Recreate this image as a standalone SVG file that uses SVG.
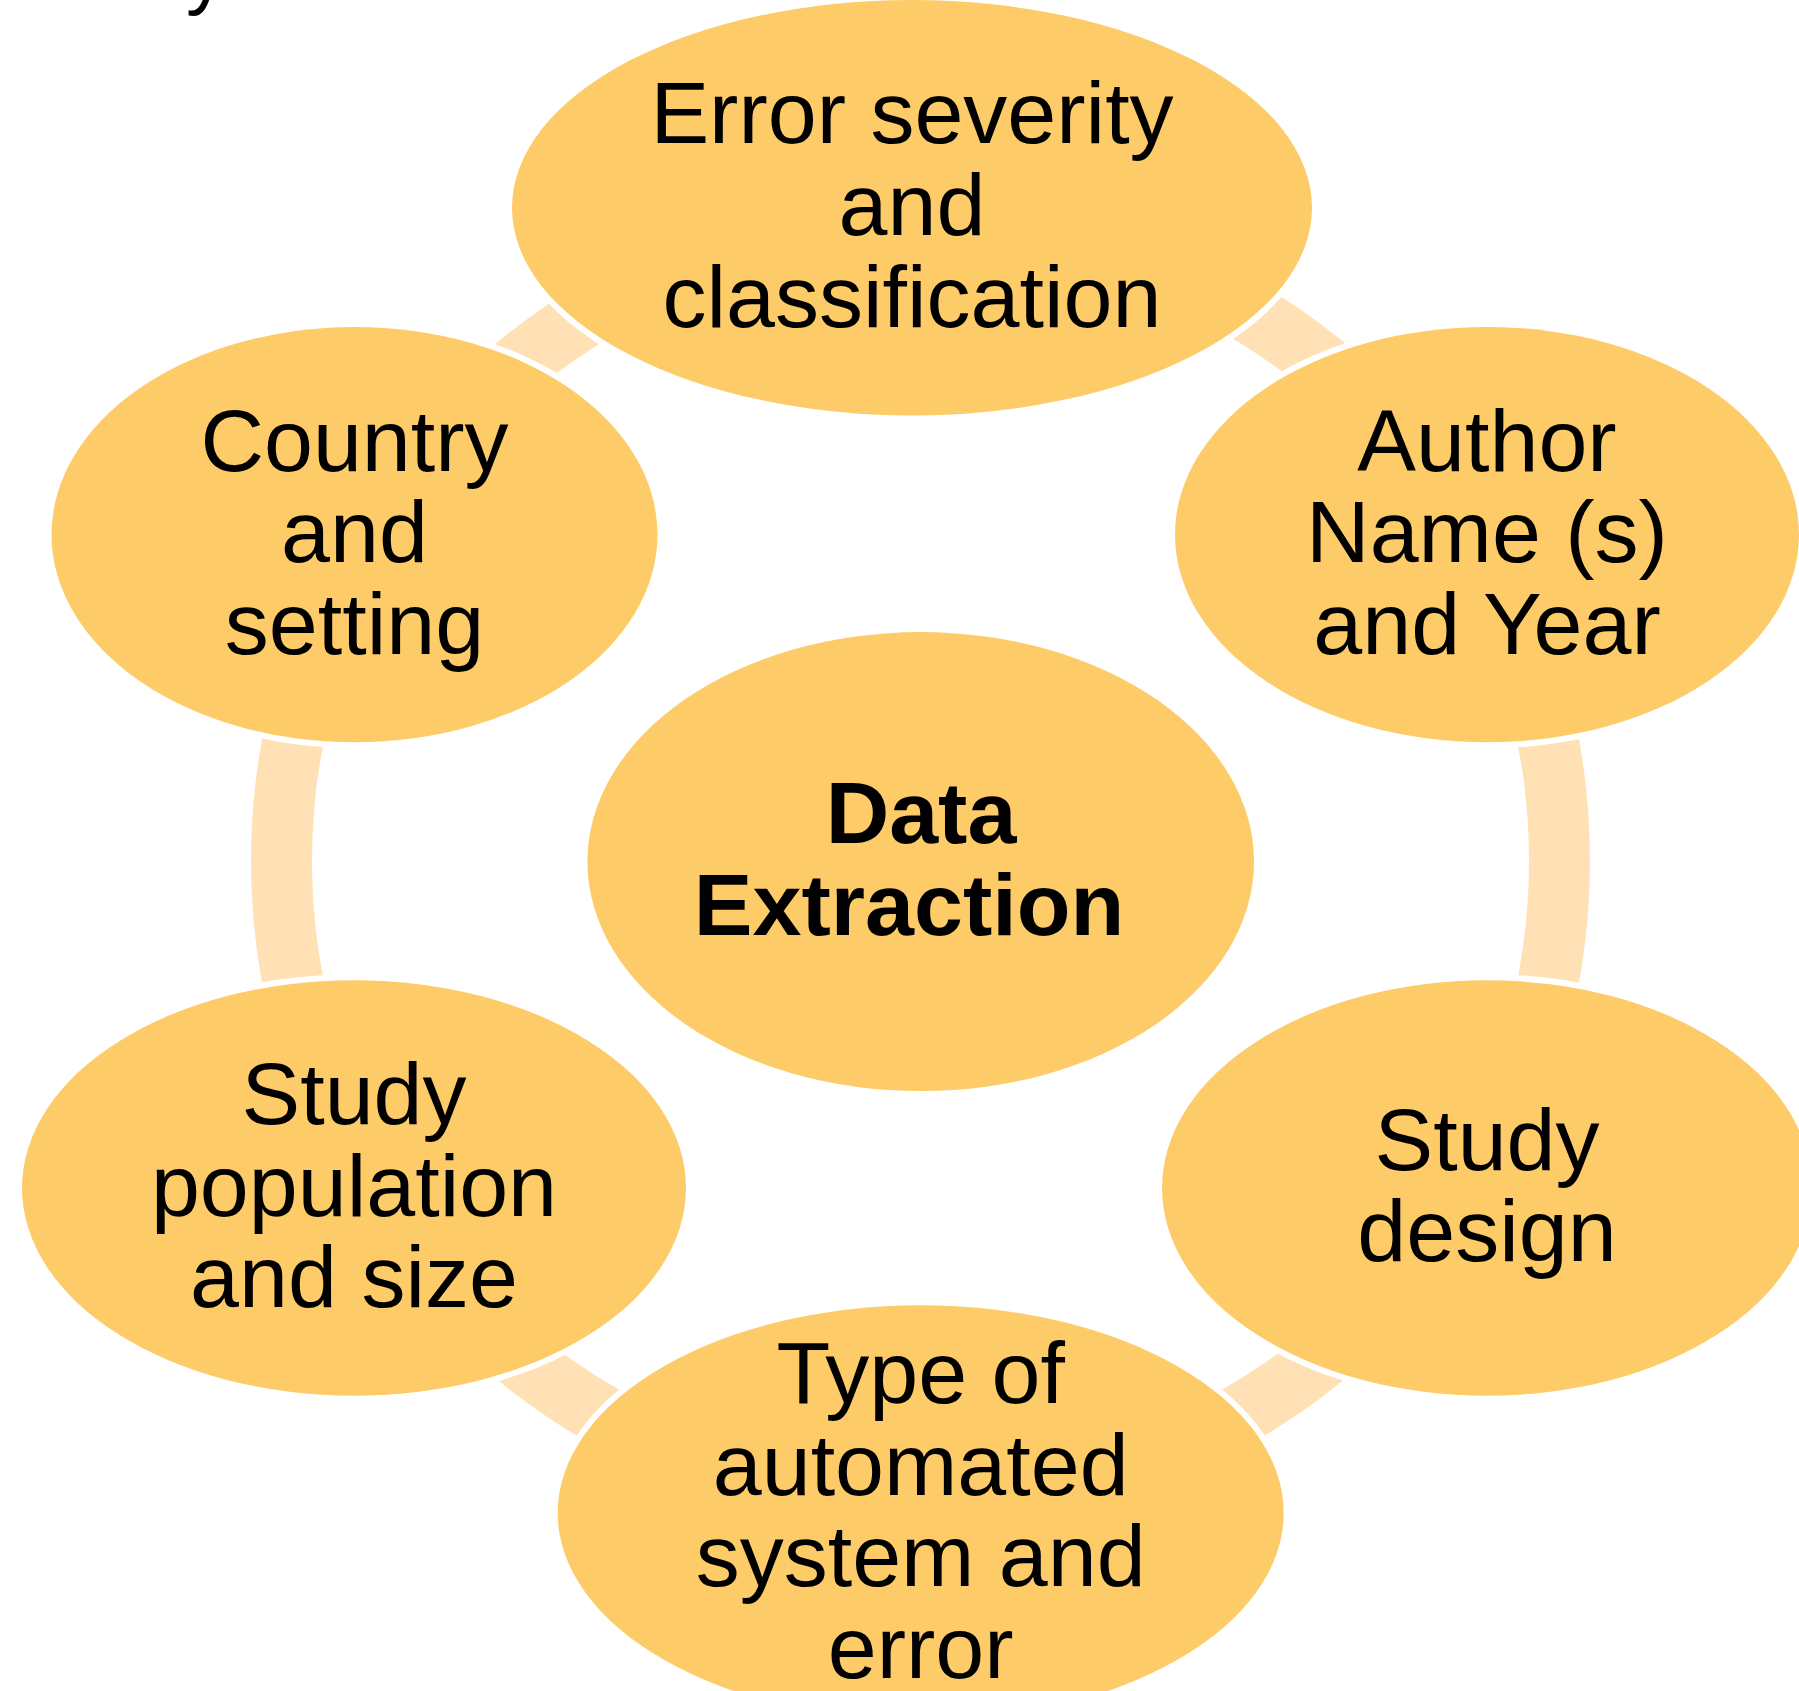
<svg xmlns="http://www.w3.org/2000/svg" width="1799" height="1691" viewBox="0 0 1799 1691">
  <style>
    .node { fill: #FECB69; stroke: #FFFFFF; stroke-width: 12; paint-order: stroke; }
    .lbl { font-family: "Liberation Sans", Arial, sans-serif; font-size: 88px; fill: #000000; text-anchor: middle; }
    .hub { font-weight: bold; }
    .ring { fill: none; stroke: #FFE1B5; stroke-width: 61; }
  </style>

  <rect width="1799" height="1691" fill="#FFFFFF"/>

  <!-- tail of a heading line that sits above the page edge -->
  <text x="186" y="-1" class="lbl" style="text-anchor:start; font-size:80px">y</text>

  <!-- cycle ring: pieces show between the satellite ellipses -->
  <g id="connectors">
    <circle class="ring" cx="920.5" cy="861" r="639"/>
  </g>

  <g id="node-hub">
    <ellipse class="node" cx="920.7" cy="861.6" rx="333.3" ry="229.5"/>
    <text class="lbl hub" x="921" y="843.3">Data</text>
    <text class="lbl hub" x="909" y="935">Extraction</text>
  </g>

  <g id="node-error-severity">
    <ellipse class="node" cx="912" cy="207.7" rx="400" ry="207.7"/>
    <text class="lbl" x="912" y="143.4">Error severity</text>
    <text class="lbl" x="912" y="235">and</text>
    <text class="lbl" x="912" y="326.5">classification</text>
  </g>

  <g id="node-author">
    <ellipse class="node" cx="1487" cy="534.6" rx="312" ry="207.7"/>
    <text class="lbl" x="1487" y="470.6">Author</text>
    <text class="lbl" x="1487" y="562.1">Name (s)</text>
    <text class="lbl" x="1487" y="653.6">and Year</text>
  </g>

  <g id="node-study-design">
    <ellipse class="node" cx="1487" cy="1188" rx="325" ry="207.7"/>
    <text class="lbl" x="1487" y="1169.8">Study</text>
    <text class="lbl" x="1487" y="1261.3">design</text>
  </g>

  <g id="node-automated-system">
    <ellipse class="node" cx="920.7" cy="1513" rx="363" ry="207.7"/>
    <text class="lbl" x="920.7" y="1403.3">Type of</text>
    <text class="lbl" x="920.7" y="1494.8">automated</text>
    <text class="lbl" x="920.7" y="1586.3">system and</text>
    <text class="lbl" x="920.7" y="1677.8">error</text>
  </g>

  <g id="node-study-population">
    <ellipse class="node" cx="354" cy="1188" rx="332" ry="207.7"/>
    <text class="lbl" x="354" y="1124">Study</text>
    <text class="lbl" x="354" y="1215.5">population</text>
    <text class="lbl" x="354" y="1307">and size</text>
  </g>

  <g id="node-country">
    <ellipse class="node" cx="354.5" cy="534.6" rx="303" ry="207.7"/>
    <text class="lbl" x="354.5" y="470.6">Country</text>
    <text class="lbl" x="354.5" y="562.1">and</text>
    <text class="lbl" x="354.5" y="653.6">setting</text>
  </g>
</svg>
